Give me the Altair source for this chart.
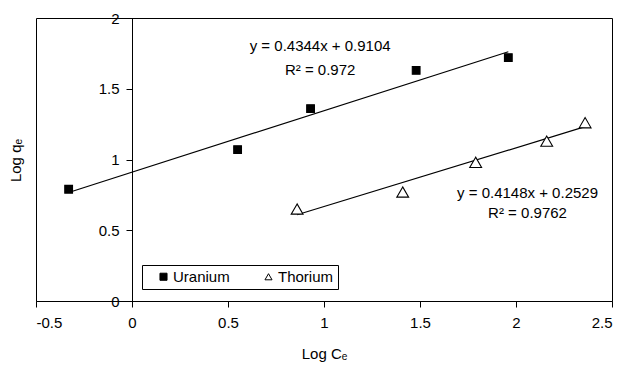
import altair as alt
import pandas as pd

# Measured points (log-log Freundlich plot)
uranium_x = [-0.33, 0.55, 0.93, 1.48, 1.96]
uranium_y = [0.79, 1.07, 1.36, 1.63, 1.72]
thorium_x = [0.86, 1.41, 1.79, 2.16, 2.36]
thorium_y = [0.65, 0.77, 0.98, 1.13, 1.26]

# Linear fits: slope, intercept, R²
series_names = ["Uranium", "Thorium"]
fit_slope = [0.4344, 0.4148]
fit_intercept = [0.9104, 0.2529]
fit_r2 = [0.972, 0.9762]

# Where each fit equation is written (data coordinates)
eq_x = [0.98, 2.06]
eq_y = [1.80, 0.765]
r2_y = [1.63, 0.62]

x_ticks = [-0.5, 0, 0.5, 1, 1.5, 2, 2.5]
y_ticks = [0, 0.5, 1, 1.5, 2]

FONT = "Liberation Sans"
FS = 15

pts = pd.DataFrame(
    {"series": ["Uranium"] * len(uranium_x) + ["Thorium"] * len(thorium_x),
     "x": uranium_x + thorium_x,
     "y": uranium_y + thorium_y}
)

line_rows = []
for name, m, b in zip(series_names, fit_slope, fit_intercept):
    xs = pts.loc[pts.series == name, "x"]
    for xv in (xs.min(), xs.max()):
        line_rows.append({"series": name, "x": xv, "y": m * xv + b})
lines = pd.DataFrame(line_rows)

labels = pd.DataFrame(
    {"x": eq_x + eq_x,
     "y": eq_y + r2_y,
     "text": [f"y = {m}x + {b}" for m, b in zip(fit_slope, fit_intercept)]
     + [f"R² = {r}" for r in fit_r2]}
)

x_scale = alt.Scale(domain=[-0.5, 2.5], nice=False, zero=False)
y_scale = alt.Scale(domain=[0, 2], nice=False, zero=False)

x_enc = alt.X(
    "x:Q", scale=x_scale,
    axis=alt.Axis(values=x_ticks, title="Log Cₑ", labelExpr="toString(datum.value)",
                  grid=False, tickSize=6, labelPadding=8, titlePadding=16),
)
y_enc = alt.Y(
    "y:Q", scale=y_scale,
    axis=alt.Axis(values=y_ticks, title="Log qₑ", labelExpr="toString(datum.value)",
                  grid=False, tickSize=6, labelPadding=7, offset=-96,
                  titleX=-117, titleY=142, titleAngle=270, titleAlign="center",
                  titleBaseline="middle"),
)

legend_opts = dict(title=None, orient="none", legendX=106, legendY=247,
                   direction="horizontal")

series_enc = dict(
    shape=alt.Shape("series:N",
                    scale=alt.Scale(domain=series_names, range=["square", "triangle-up"]),
                    legend=alt.Legend(**legend_opts)),
    fill=alt.Fill("series:N",
                  scale=alt.Scale(domain=series_names, range=["black", "white"]),
                  legend=alt.Legend(**legend_opts)),
    stroke=alt.Stroke("series:N",
                      scale=alt.Scale(domain=series_names, range=["black", "black"]),
                      legend=alt.Legend(**legend_opts)),
)

fit_lines = alt.Chart(lines).mark_line(color="black", strokeWidth=1.2).encode(
    x=x_enc, y=y_enc, detail="series:N"
)

base = alt.Chart(pts).encode(x=x_enc, y=y_enc, **series_enc)
uranium_pts = base.transform_filter(alt.datum.series == "Uranium").mark_point(
    opacity=1, strokeWidth=1.1, size=60)
thorium_pts = base.transform_filter(alt.datum.series == "Thorium").mark_point(
    opacity=1, strokeWidth=1.1, size=140)

text = alt.Chart(labels).mark_text(font=FONT, fontSize=FS, color="black",
                                   align="center", baseline="middle").encode(
    x=alt.X("x:Q", scale=x_scale), y=alt.Y("y:Q", scale=y_scale), text="text:N"
)

chart = (
    alt.layer(fit_lines, uranium_pts, thorium_pts, text)
    .properties(width=576, height=283,
                autosize=alt.AutoSizeParams(type="none"),
                padding={"left": 36, "top": 18, "right": 13, "bottom": 64})
    .configure_view(stroke="black", strokeWidth=1)
    .configure_axis(labelFont=FONT, titleFont=FONT, labelFontSize=FS, titleFontSize=FS,
                    labelColor="black", titleColor="black", domainColor="black",
                    tickColor="black", titleFontWeight="normal")
    .configure_legend(strokeColor="black", fillColor="white", padding=4,
                      labelFont=FONT, labelFontSize=FS, labelColor="black",
                      symbolSize=50, symbolStrokeWidth=1,
                      symbolOffset=10, columnPadding=21, labelOffset=2)
)

chart.save("out.html", embed_options={"renderer": "svg", "actions": False})
